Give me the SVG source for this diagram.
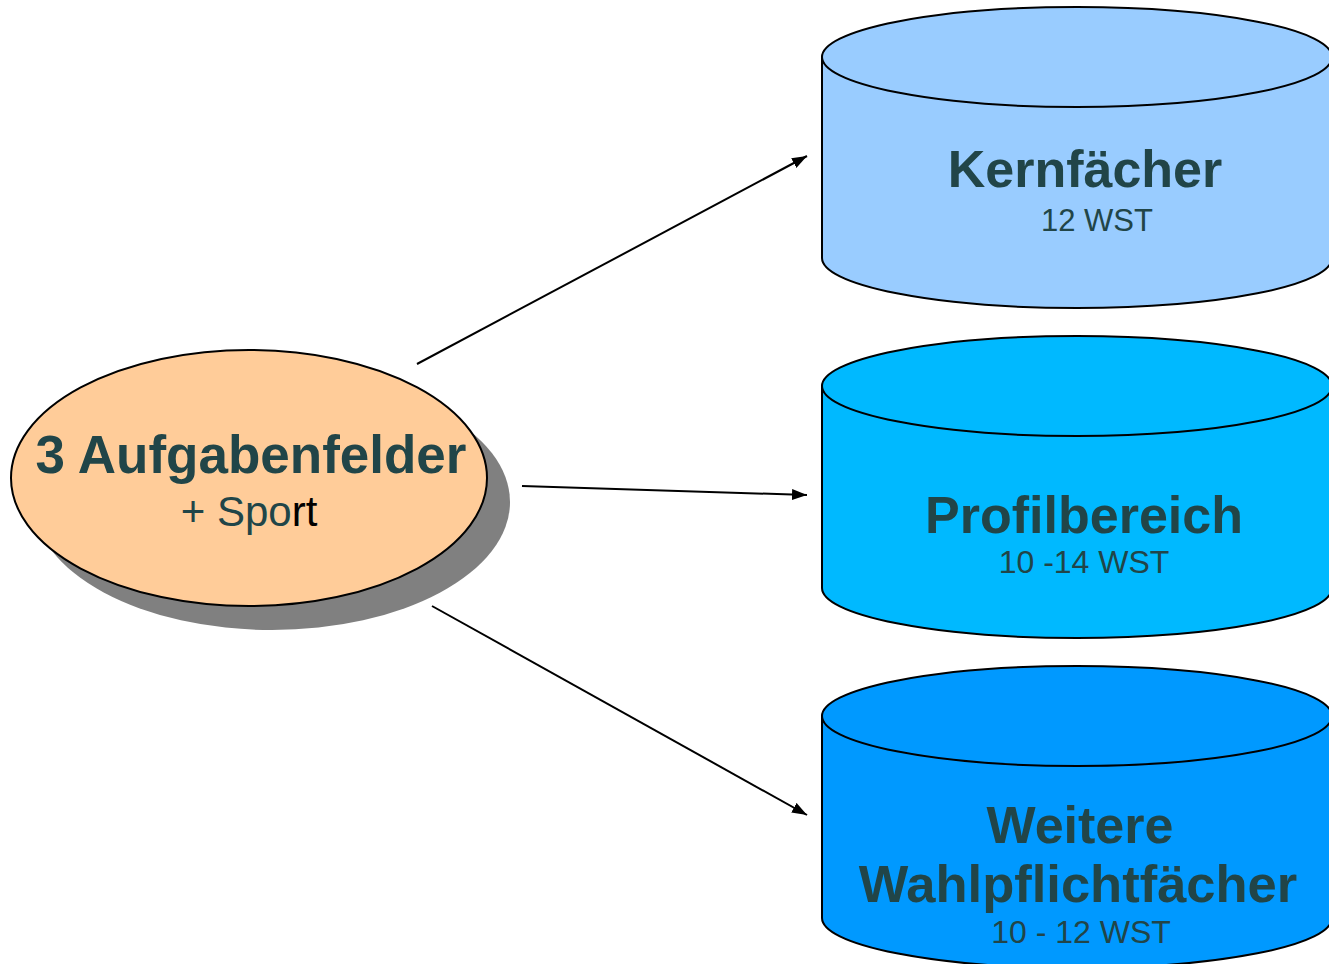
<svg xmlns="http://www.w3.org/2000/svg" width="1329" height="964" viewBox="0 0 1329 964">
<defs>
<marker id="arr" viewBox="0 0 15 11" refX="15" refY="5.5" markerWidth="15" markerHeight="11" markerUnits="userSpaceOnUse" orient="auto">
<path d="M0,0 L15,5.5 L0,11 Z" fill="#000"/>
</marker>
</defs>
<style>
.t{font-family:"Liberation Sans",Arial,sans-serif;fill:#214548;text-anchor:middle}
.b{font-weight:bold}
.s{stroke:#000;stroke-width:2}
</style>
<rect width="1329" height="964" fill="#fff"/>
<g id="connectors" stroke="#000" stroke-width="2" fill="none">
<line x1="417" y1="364" x2="807" y2="156" marker-end="url(#arr)"/>
<line x1="522" y1="486" x2="807" y2="495" marker-end="url(#arr)"/>
<line x1="432" y1="606" x2="807" y2="815" marker-end="url(#arr)"/>
</g>
<g id="aufgabenfelder">
<ellipse cx="272" cy="502" rx="238" ry="128" fill="#808080"/>
<ellipse cx="249" cy="478" rx="238" ry="128" fill="#FFCC99" class="s"/>
<text class="t b" x="251" y="473" font-size="53">3 Aufgabenfelder</text>
<text class="t" x="249" y="526" font-size="42">+ Spo<tspan fill="#000">rt</tspan></text>
</g>
<g id="kernfaecher">
<path d="M822,57 V258 A255,50 0 0 0 1332,258 V57 Z" fill="#99CCFF" class="s"/>
<ellipse cx="1077" cy="57" rx="255" ry="50" fill="#99CCFF" class="s"/>
<text class="t b" x="1085" y="187" font-size="52">Kernfächer</text>
<text class="t" x="1097" y="231" font-size="31">12 WST</text>
</g>
<g id="profilbereich">
<path d="M822,386 V588 A255,50 0 0 0 1332,588 V386 Z" fill="#00B9FF" class="s"/>
<ellipse cx="1077" cy="386" rx="255" ry="50" fill="#00B9FF" class="s"/>
<text class="t b" x="1084" y="533" font-size="52">Profilbereich</text>
<text class="t" x="1084" y="573" font-size="32">10 -14 WST</text>
</g>
<g id="wahlpflicht">
<path d="M822,716 V918 A255,50 0 0 0 1332,918 V716 Z" fill="#0099FF" class="s"/>
<ellipse cx="1077" cy="716" rx="255" ry="50" fill="#0099FF" class="s"/>
<text class="t b" x="1080" y="843" font-size="52">Weitere</text>
<text class="t b" x="1078" y="902" font-size="52.5">Wahlpflichtfächer</text>
<text class="t" x="1081" y="943" font-size="32">10 - 12 WST</text>
</g>
</svg>
